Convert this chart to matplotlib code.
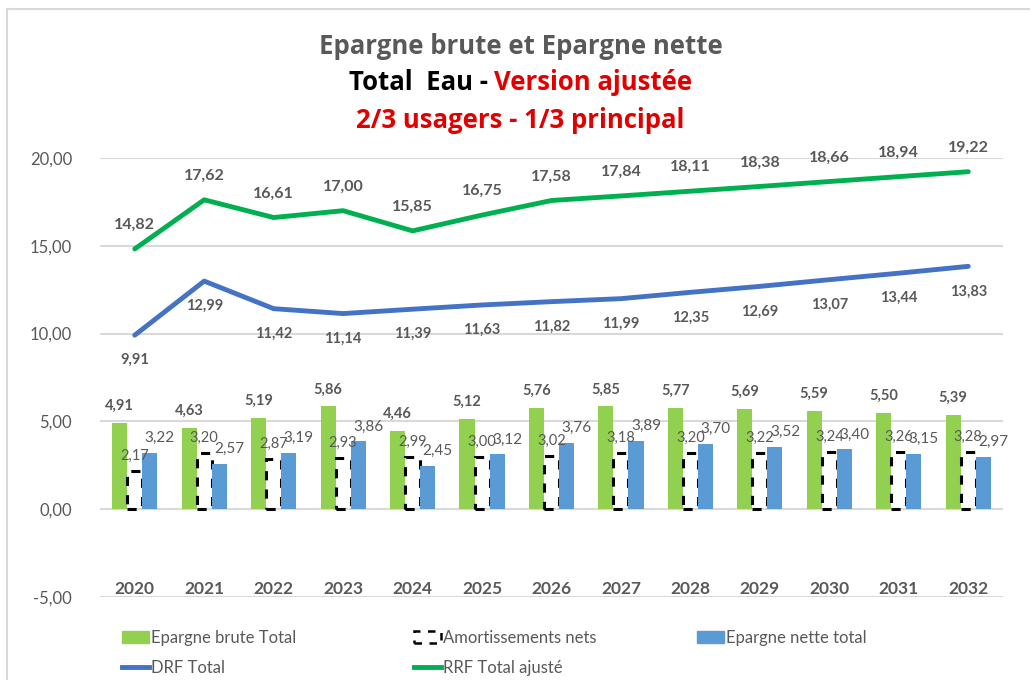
import numpy as np
import matplotlib.pyplot as plt
from matplotlib.lines import Line2D
from matplotlib.patches import Patch

plt.rcParams['font.family'] = ['Lato', 'DejaVu Sans']

annees = ['2020', '2021', '2022', '2023', '2024', '2025', '2026',
          '2027', '2028', '2029', '2030', '2031', '2032']
epargne_brute = [4.91, 4.63, 5.19, 5.86, 4.46, 5.12, 5.76, 5.85, 5.77, 5.69, 5.59, 5.50, 5.39]
amortissements = [2.17, 3.20, 2.87, 2.93, 2.99, 3.00, 3.02, 3.18, 3.20, 3.22, 3.24, 3.26, 3.28]
epargne_nette = [3.22, 2.57, 3.19, 3.86, 2.45, 3.12, 3.76, 3.89, 3.70, 3.52, 3.40, 3.15, 2.97]
drf = [9.91, 12.99, 11.42, 11.14, 11.39, 11.63, 11.82, 11.99, 12.35, 12.69, 13.07, 13.44, 13.83]
rrf = [14.82, 17.62, 16.61, 17.00, 15.85, 16.75, 17.58, 17.84, 18.11, 18.38, 18.66, 18.94, 19.22]
yticks = [-5, 0, 5, 10, 15, 20]

vert_bar = '#92D050'
bleu_bar = '#5B9BD5'
bleu_ligne = '#4472C4'
vert_ligne = '#00B050'
gris = '#595959'
titre_font = ['Open Sans', 'DejaVu Sans']
ts = 18.5

def fr(v):
    return f"{v:.2f}".replace('.', ',')

fig = plt.figure(figsize=(10.3, 6.8), dpi=100)
ax = fig.add_axes([100/1030, 1-597/680, 903/1030, 439/680])

x = np.arange(len(annees))
w = 0.217
ax.bar(x - w, epargne_brute, w, color=vert_bar, zorder=2)
ax.bar(x, amortissements, w, fill=False, edgecolor='black', linestyle=(0, (3, 3)),
       linewidth=2.2, zorder=2)
ax.bar(x + w, epargne_nette, w, color=bleu_bar, zorder=2)
ax.plot(x, drf, color=bleu_ligne, lw=3.5, solid_capstyle='round', zorder=3)
ax.plot(x, rrf, color=vert_ligne, lw=3.5, solid_capstyle='round', zorder=3)

ax.set_xlim(-0.5, len(annees) - 0.5)
ax.set_ylim(-5, 20)
ax.set_yticks(yticks)
ax.set_yticklabels([fr(v) for v in yticks], color=gris, fontsize=12)
ax.tick_params(axis='y', length=0, pad=20)
ax.set_xticks([])
ax.grid(axis='y', color='#D9D9D9', lw=1.5, zorder=0)
ax.set_axisbelow(True)
for s in ax.spines.values():
    s.set_visible(False)

for i, a in enumerate(annees):
    ax.text(i, -4.54, a, ha='center', va='center', fontsize=12.5,
            fontweight='bold', color=gris)

for i in range(len(annees)):
    ax.annotate(fr(rrf[i]), (x[i], rrf[i]), xytext=(0, 24), textcoords='offset pixels',
                ha='center', va='center', fontsize=11.5, fontweight='bold', color=gris)
    ax.annotate(fr(drf[i]), (x[i], drf[i]), xytext=(0, -25), textcoords='offset pixels',
                ha='center', va='center', fontsize=10.5, fontweight='bold', color=gris)
    ax.annotate(fr(epargne_brute[i]), (x[i] - w, epargne_brute[i]), xytext=(0, 17),
                textcoords='offset pixels', ha='center', va='center', fontsize=10.5,
                fontweight='bold', color=gris)
    ax.annotate(fr(amortissements[i]), (x[i], amortissements[i]), xytext=(0, 15),
                textcoords='offset pixels', ha='center', va='center', fontsize=10.5,
                color=gris)
    ax.annotate(fr(epargne_nette[i]), (x[i] + w, epargne_nette[i]), xytext=(10, 15),
                textcoords='offset pixels', ha='center', va='center', fontsize=11,
                color=gris)

# titre
cx = 0.5055
fig.text(cx, 1-46/680, 'Epargne brute et Epargne nette', ha='center', va='center',
         fontsize=ts, fontweight='bold', color=gris, family=titre_font)
t1 = fig.text(0, 1-83/680, 'Total  Eau - ', ha='left', va='center',
              fontsize=ts, fontweight='bold', color='black', family=titre_font)
t2 = fig.text(0, 1-83/680, 'Version ajustée', ha='left', va='center',
              fontsize=ts, fontweight='bold', color='#E00000', family=titre_font)
fig.canvas.draw()
bb1 = t1.get_window_extent()
bb2 = t2.get_window_extent()
start = cx - (bb1.width + bb2.width) / 2 / 1030
t1.set_x(start)
t2.set_x(start + bb1.width / 1030)
fig.text(cx, 1-120/680, '2/3 usagers - 1/3 principal', ha='center', va='center',
         fontsize=ts, fontweight='bold', color='#E00000', family=titre_font)

# légende
legs = [
    ([Patch(color=vert_bar), Line2D([], [], color=bleu_ligne, lw=3.5)],
     ['Epargne brute Total', 'DRF Total'], 122),
    ([Patch(fill=False, edgecolor='black', linestyle=(0, (3, 3)), lw=1.8),
      Line2D([], [], color=vert_ligne, lw=3.5)],
     ['Amortissements nets', 'RRF Total ajusté'], 414),
    ([Patch(color=bleu_bar)], ['Epargne nette total'], 697),
]
for h, l, px in legs:
    lg = fig.legend(h, l, loc='upper left', bbox_to_anchor=(px/1030, 1-630/680),
                    frameon=False, fontsize=12, handlelength=1.6, handleheight=0.7,
                    handletextpad=0.15, labelspacing=0.85, borderpad=0, borderaxespad=0)
    for t in lg.get_texts():
        t.set_color(gris)

# cadre
fig.add_artist(Line2D([7/1030, 7/1030], [0, 1-9/680], color='#D9D9D9', lw=1.5))
fig.add_artist(Line2D([7/1030, 1], [1-9/680, 1-9/680], color='#D9D9D9', lw=1.5))

fig.savefig('out.png', dpi=100)
